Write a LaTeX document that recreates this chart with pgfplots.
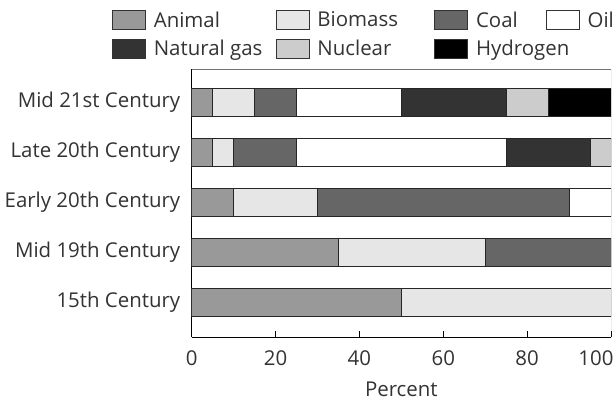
\documentclass[border=0pt]{standalone}
\usepackage{fontspec}
\setmainfont{Open Sans}
\usepackage{pgfplots}
\pgfplotsset{compat=1.18}
\definecolor{txt}{HTML}{333333}
\definecolor{cAnimal}{HTML}{999999}
\definecolor{cBiomass}{HTML}{E6E6E6}
\definecolor{cCoal}{HTML}{666666}
\definecolor{cOil}{HTML}{FFFFFF}
\definecolor{cGas}{HTML}{333333}
\definecolor{cNuclear}{HTML}{CCCCCC}
\definecolor{cHydrogen}{HTML}{000000}
\newcommand{\lt}[2]{\makebox[#1bp][l]{#2}}
\begin{document}
\begin{tikzpicture}[x=1bp,y=1bp]
\path[use as bounding box] (0,0) rectangle (616,401);
\begin{axis}[
  at={(191.7bp,64bp)}, anchor=south west,
  scale only axis, width=419.3bp, height=268bp,
  xbar stacked, bar width=28.4bp,
  xmin=0, xmax=100, ymin=-0.69, ymax=4.67,
  ytick={0,1,2,3,4},
  yticklabels={15th Century, Mid 19th Century, Early 20th Century, Late 20th Century, Mid 21st Century},
  xtick={0,20,40,60,80},
  extra x ticks={100},
  extra x tick style={xticklabel style={anchor=north east, xshift=6bp}},
  axis x line*=bottom, axis y line*=left,
  axis line style={black, line width=0.8bp},
  x axis line style={-}, y axis line style={-},
  tick align=inside, major tick length=6bp,
  x tick style={black, line width=0.8bp},
  y tick style={draw=none},
  font=\fontsize{20.5}{24}\selectfont,
  /pgf/number format/assume math mode=true,
  every tick label/.append style={text=txt},
  xticklabel style={yshift=-10bp},
  yticklabel style={xshift=-8bp},
  xlabel={Percent}, xlabel style={text=txt, yshift=-10bp},
  legend columns=4,
  legend cell align=left,
  legend style={draw=none, fill=none, inner sep=0pt, at={(-0.19,1.2201)}, anchor=north west,
    font=\fontsize{20.5}{24}\selectfont, text=txt, nodes={inner sep=0pt},
    /tikz/every odd column/.style={column sep=8bp},
    /tikz/every even column/.style={column sep=0bp},
    row sep=9bp},
  legend image code/.code={\draw[#1,draw=black!80,line width=0.6bp] (0bp,-9.5bp) rectangle (33bp,9.5bp);},
  every axis plot/.append style={draw=black!85, line width=0.7bp},
]
\addplot[fill=cAnimal] coordinates {(50,0) (35,1) (10,2) (5,3) (5,4)};
\addplot[fill=cBiomass] coordinates {(50,0) (35,1) (20,2) (5,3) (10,4)};
\addplot[fill=cCoal] coordinates {(0,0) (30,1) (60,2) (15,3) (10,4)};
\addplot[fill=cOil] coordinates {(0,0) (0,1) (10,2) (50,3) (25,4)};
\addplot[fill=cGas] coordinates {(0,0) (0,1) (0,2) (20,3) (25,4)};
\addplot[fill=cNuclear] coordinates {(0,0) (0,1) (0,2) (5,3) (10,4)};
\addplot[fill=cHydrogen] coordinates {(0,0) (0,1) (0,2) (0,3) (15,4)};
\legend{\lt{122}{Animal}, \lt{117}{Biomass}, \lt{70}{Coal}, \lt{28}{Oil}, \lt{122}{Natural gas}, \lt{117}{Nuclear}, \lt{70}{Hydrogen}}
\draw[black!55, line width=0.8bp] (rel axis cs:0,1) -- (rel axis cs:1,1) -- (rel axis cs:1,0);
\end{axis}
\end{tikzpicture}
\end{document}
